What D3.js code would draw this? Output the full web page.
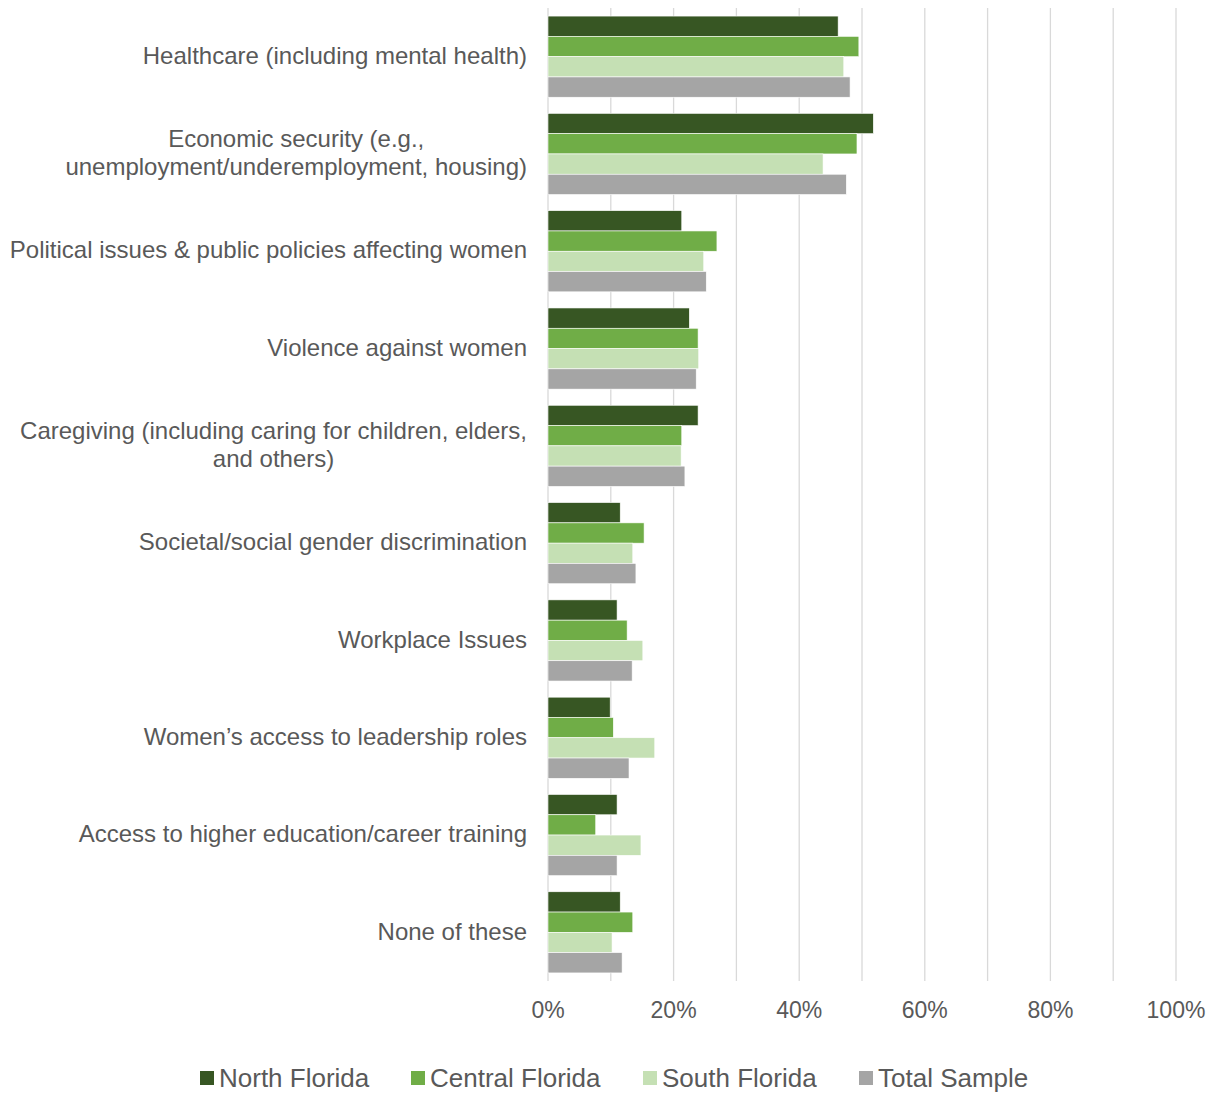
<!DOCTYPE html>
<html>
<head>
<meta charset="utf-8">
<script src="https://cdn.jsdelivr.net/npm/d3@7"></script>
<style>
  body { margin: 0; background: #fff; }
  text { font-family: "Liberation Sans", Arial, sans-serif; fill: #595959; }
</style>
</head>
<body>
<div id="chart"></div>
<script>
// data (percent)
var categories = [
  ["Healthcare (including mental health)"],
  ["Economic security (e.g.,", "unemployment/underemployment, housing)"],
  ["Political issues & public policies affecting women"],
  ["Violence against women"],
  ["Caregiving (including caring for children, elders,", "and others)"],
  ["Societal/social gender discrimination"],
  ["Workplace Issues"],
  ["Women\u2019s access to leadership roles"],
  ["Access to higher education/career training"],
  ["None of these"]
];
var seriesNames = ["North Florida", "Central Florida", "South Florida", "Total Sample"];
var colors = ["#375623", "#70ad47", "#c5e0b4", "#a5a5a5"];
var northFlorida   = [46.2, 51.8, 21.3, 22.5, 23.9, 11.5, 11.0,  9.9, 11.0, 11.5];
var centralFlorida = [49.5, 49.2, 26.9, 23.9, 21.3, 15.3, 12.6, 10.4,  7.6, 13.5];
var southFlorida   = [47.1, 43.8, 24.8, 24.0, 21.2, 13.5, 15.1, 17.0, 14.8, 10.2];
var totalSample    = [48.1, 47.5, 25.2, 23.6, 21.8, 14.0, 13.4, 12.9, 11.0, 11.8];
var tickValues = [0, 20, 40, 60, 80, 100];

var series = [northFlorida, centralFlorida, southFlorida, totalSample];
var width = 1214, height = 1093;

var svg = d3.select("#chart").append("svg")
  .attr("width", width)
  .attr("height", height);

var x = d3.scaleLinear().domain([0, 100]).range([548, 1176]);
var y = d3.scaleBand()
  .domain(d3.range(categories.length))
  .range([8, 981])
  .paddingInner(0.166)
  .paddingOuter(0.083);
var ySub = d3.scaleBand()
  .domain(d3.range(seriesNames.length))
  .range([0, y.bandwidth()]);

// gridlines every 10%
svg.append("g").selectAll("line")
  .data(d3.range(0, 101, 10))
  .enter().append("line")
  .attr("x1", function(d) { return x(d); })
  .attr("x2", function(d) { return x(d); })
  .attr("y1", 8)
  .attr("y2", 981)
  .attr("stroke", "#d9d9d9")
  .attr("stroke-width", 1.3);

// bars
var groups = svg.append("g").selectAll("g")
  .data(categories)
  .enter().append("g")
  .attr("transform", function(d, i) { return "translate(0," + y(i) + ")"; });

groups.selectAll("rect")
  .data(function(d, i) { return series.map(function(s, k) { return {k: k, v: s[i]}; }); })
  .enter().append("rect")
  .attr("x", x(0))
  .attr("y", function(d) { return ySub(d.k); })
  .attr("width", function(d) { return x(d.v) - x(0); })
  .attr("height", ySub.bandwidth())
  .attr("fill", function(d) { return colors[d.k]; })
  .attr("stroke", "#fff")
  .attr("stroke-width", 0.6);

// category labels: block right-aligned, lines centred within the block
groups.each(function(lines, i) {
  var g = d3.select(this);
  var cy = y.bandwidth() / 2;
  var lh = 28;
  var texts = lines.map(function(line, j) {
    return g.append("text")
      .attr("y", cy + (j - (lines.length - 1) / 2) * lh)
      .attr("dy", "0.3em")
      .attr("text-anchor", "middle")
      .style("font-size", "24px")
      .text(line);
  });
  var maxW = d3.max(texts, function(t) { return t.node().getComputedTextLength(); });
  texts.forEach(function(t) { t.attr("x", 527 - maxW / 2); });
});

// x tick labels
svg.append("g").selectAll("text")
  .data(tickValues)
  .enter().append("text")
  .attr("x", function(d) { return x(d); })
  .attr("y", 1010)
  .attr("dy", "0.35em")
  .attr("text-anchor", "middle")
  .style("font-size", "23px")
  .text(function(d) { return d + "%"; });

// legend
var legendX = [200, 411, 643, 859];
var legend = svg.append("g").selectAll("g")
  .data(seriesNames)
  .enter().append("g")
  .attr("transform", function(d, i) { return "translate(" + legendX[i] + ",1078)"; });
legend.append("rect")
  .attr("x", 0).attr("y", -7)
  .attr("width", 14).attr("height", 14)
  .attr("fill", function(d, i) { return colors[i]; });
legend.append("text")
  .attr("x", 19)
  .attr("y", 0)
  .attr("dy", "0.35em")
  .style("font-size", "26px")
  .text(function(d) { return d; });
</script>
</body>
</html>
